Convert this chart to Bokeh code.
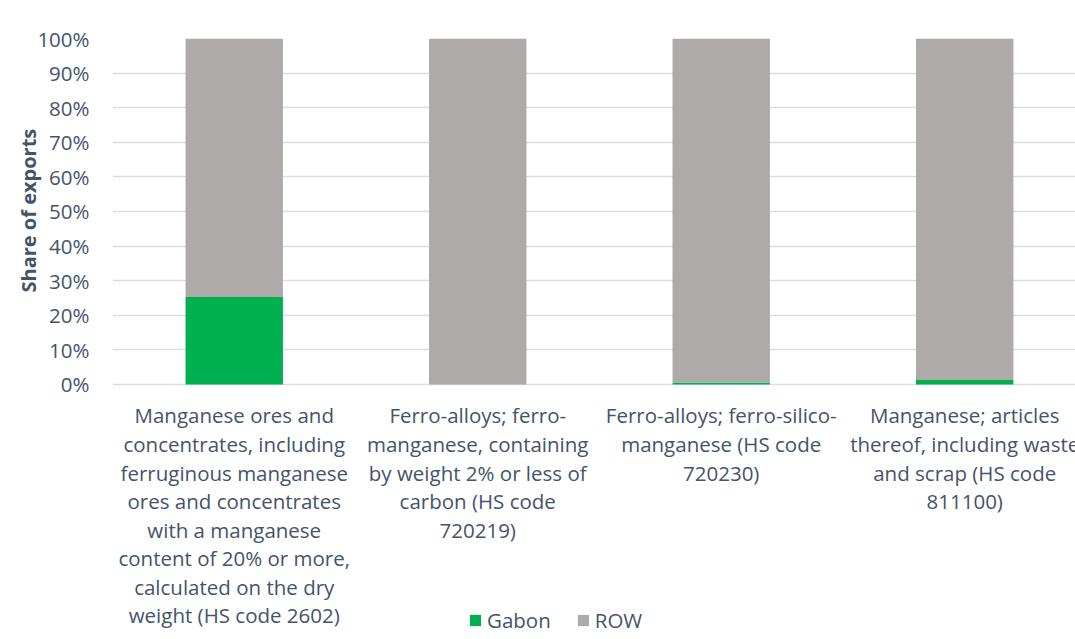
from bokeh.plotting import figure
from bokeh.models import ColumnDataSource, Range1d, FixedTicker, NumeralTickFormatter, Title
from bokeh.core.properties import value
from bokeh.embed import file_html
from bokeh.resources import INLINE

categories = [
    "Manganese ores and\nconcentrates, including\nferruginous manganese\nores and concentrates\nwith a manganese\ncontent of 20% or more,\ncalculated on the dry\nweight (HS code 2602)",
    "Ferro-alloys; ferro-\nmanganese, containing\nby weight 2% or less of\ncarbon (HS code\n720219)",
    "Ferro-alloys; ferro-silico-\nmanganese (HS code\n720230)",
    "Manganese; articles\nthereof, including waste\nand scrap (HS code\n811100)",
]
positions = [0, 1, 2, 3]
gabon = [0.253, 0.0, 0.006, 0.013]
row = [0.747, 1.0, 0.994, 0.987]
y_ticks = [0, 0.1, 0.2, 0.3, 0.4, 0.5, 0.6, 0.7, 0.8, 0.9, 1.0]

GREEN = "#00B050"
GRAY = "#AEAAAA"
TEXT = "#44546A"
GRID = "#D9DDE4"
FONT = "Open Sans"
FS = "20.5px"

source = ColumnDataSource(dict(x=positions, Gabon=gabon, ROW=row,
                               zero=[0, 0, 0, 0], label=categories))

p = figure(width=1075, height=639, output_backend="svg", toolbar_location=None,
           x_axis_location=None,
           x_range=Range1d(-0.5, 3.455), y_range=Range1d(-0.737, 1),
           min_border_left=112, min_border_right=0, min_border_top=38, min_border_bottom=0)

p.vbar_stack(["Gabon", "ROW"], x="x", width=0.4, source=source,
             color=[GREEN, GRAY], line_color=None, legend_label=["Gabon", "ROW"])

p.text(x="x", y="zero", text="label", source=source, text_align="center",
       text_baseline="top", y_offset=17, text_font=value(FONT),
       text_font_size=FS, text_color=TEXT, text_line_height=1.02)

p.outline_line_color = None
p.xgrid.grid_line_color = None
p.ygrid.grid_line_color = GRID
p.ygrid.grid_line_width = 1.5
p.ygrid.ticker = FixedTicker(ticks=y_ticks)

yax = p.yaxis[0]
yax.ticker = FixedTicker(ticks=y_ticks)
yax.formatter = NumeralTickFormatter(format="0%")
yax.axis_line_color = None
yax.major_tick_line_color = None
yax.minor_tick_line_color = None
yax.major_tick_out = 0
yax.major_tick_in = 0
yax.minor_tick_out = 0
yax.major_label_standoff = 23
yax.major_label_text_font = FONT
yax.major_label_text_font_size = FS
yax.major_label_text_color = TEXT

ytitle = Title(text="Share of exports", align="left", offset=347, standoff=-15,
               text_font=FONT, text_font_size="20px", text_font_style="bold",
               text_color=TEXT)
p.add_layout(ytitle, "left")

leg = p.legend[0]
leg.orientation = "horizontal"
leg.location = (356, 5)
leg.border_line_color = None
leg.background_fill_alpha = 0
leg.padding = 0
leg.margin = 0
leg.spacing = 25
leg.glyph_width = 14
leg.glyph_height = 14
leg.label_standoff = 5
leg.label_text_font = FONT
leg.label_text_font_size = FS
leg.label_text_color = TEXT

open("out.html", "w").write(file_html(p, INLINE))
